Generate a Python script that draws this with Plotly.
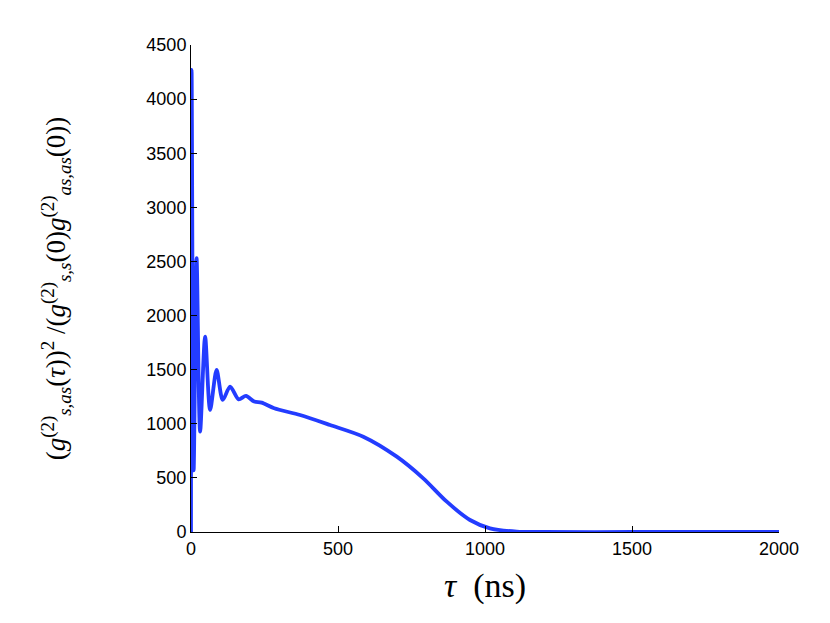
import plotly.graph_objects as go

# tau (ns) and normalised cross-correlation
tau = [0, 2, 9, 19, 31, 48, 65, 87, 108, 133, 162, 187, 215, 240, 283, 371,
       473, 586, 700, 790, 870, 949, 1017, 1108, 1200, 1500, 2000]
ratio = [0, 4270, 570, 2530, 927, 1805, 1128, 1497, 1220, 1343, 1226, 1257, 1205, 1195, 1143, 1081,
         989, 881, 696, 496, 280, 111, 34, 3, 0, 0, 0]

xticks = [0, 500, 1000, 1500, 2000]
yticks = [0, 500, 1000, 1500, 2000, 2500, 3000, 3500, 4000, 4500]

fig = go.Figure()
fig.add_trace(go.Scatter(
    x=tau, y=ratio,
    mode='lines',
    line=dict(color='rgb(35,60,255)', width=3.8, shape='spline', smoothing=0.8),
    showlegend=False
))

ytitle = ('(<i>g</i><sup>(2)</sup><sub><i>s,as</i></sub>(<i>τ</i>))<sup>2</sup>'
          ' /(<i>g</i><sup>(2)</sup><sub><i>s,s</i></sub>(0)'
          '<i>g</i><sup>(2)</sup><sub><i>as,as</i></sub>(0))')

# page body has an 8px margin, so the plot area is shifted by that much
fig.update_layout(
    width=830, height=623,
    plot_bgcolor='white', paper_bgcolor='white',
    margin=dict(l=183, r=59, t=37, b=99),
    font=dict(family='Liberation Sans, Arial', size=18, color='black'),
    xaxis=dict(
        range=[0, 2000], tickvals=xticks,
        showgrid=False, zeroline=False,
        showline=True, linecolor='black', linewidth=1,
        ticks='inside', ticklen=6, tickcolor='black',
        title=dict(text='<i>τ</i>  (ns)', font=dict(family='Liberation Serif, DejaVu Serif', size=34),
                   standoff=15)
    ),
    yaxis=dict(
        range=[0, 4500], tickvals=yticks,
        showgrid=False, zeroline=False,
        showline=True, linecolor='black', linewidth=1,
        ticks='inside', ticklen=6, tickcolor='black',
        title=dict(text=ytitle, font=dict(family='Liberation Serif, DejaVu Serif', size=27),
                   standoff=72)
    )
)

fig.write_html("out.html")
